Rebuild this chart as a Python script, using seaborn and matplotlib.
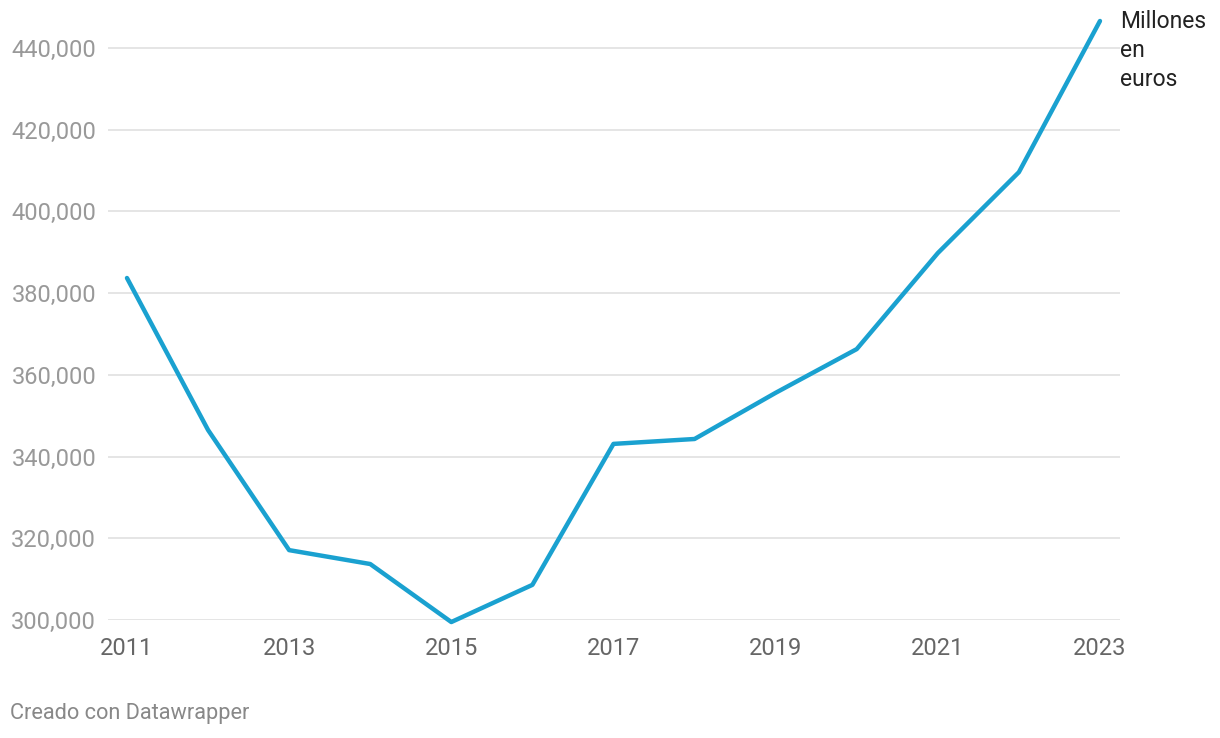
import matplotlib.pyplot as plt
import seaborn as sns
import pandas as pd
from matplotlib.ticker import FuncFormatter

# Data (millones de euros)
years = [2011, 2012, 2013, 2014, 2015, 2016, 2017, 2018, 2019, 2020, 2021, 2022, 2023]
values = [383700, 346500, 317100, 313700, 299500, 308600, 343100, 344300,
          355600, 366300, 389800, 409600, 446600]
y_ticks = [300000, 320000, 340000, 360000, 380000, 400000, 420000, 440000]
x_ticks = [2011, 2013, 2015, 2017, 2019, 2021, 2023]

df = pd.DataFrame({'year': years, 'value': values})

sns.set_style("white")
plt.rcParams['font.family'] = ['Roboto', 'DejaVu Sans']

fig = plt.figure(figsize=(12.2, 7.38), dpi=100)
ax = fig.add_axes([108 / 1220, 118 / 738, 1012 / 1220, 610 / 738])

sns.lineplot(data=df, x='year', y='value', color='#1aa1d0', linewidth=3.2, ax=ax, clip_on=False)

ax.set_xlim(2010.766, 2023.247)
ax.set_ylim(300000, 449290)
ax.set_xticks(x_ticks)
ax.set_yticks(y_ticks)
ax.yaxis.set_major_formatter(FuncFormatter(lambda v, p: f'{int(v):,}'))

ax.grid(axis='y', color='#e3e3e3', linewidth=1.3)
ax.grid(axis='x', visible=False)
ax.set_axisbelow(True)
for s in ax.spines.values():
    s.set_visible(False)

ax.tick_params(axis='y', length=0, pad=8.5, labelsize=17, labelcolor='#999999')
ax.tick_params(axis='x', length=0, pad=12, labelsize=17, labelcolor='#666666')
ax.set_xlabel('')
ax.set_ylabel('')

fig.text(1120 / 1220, 1 - 10 / 738, 'Millones\nen\neuros', ha='left', va='top',
         fontsize=16.5, color='#222222', linespacing=1.33)
fig.text(10 / 1220, 1 - 714 / 738, 'Creado con Datawrapper', ha='left', va='center',
         fontsize=15.7, color='#888888')

plt.savefig('out.png', dpi=100)
